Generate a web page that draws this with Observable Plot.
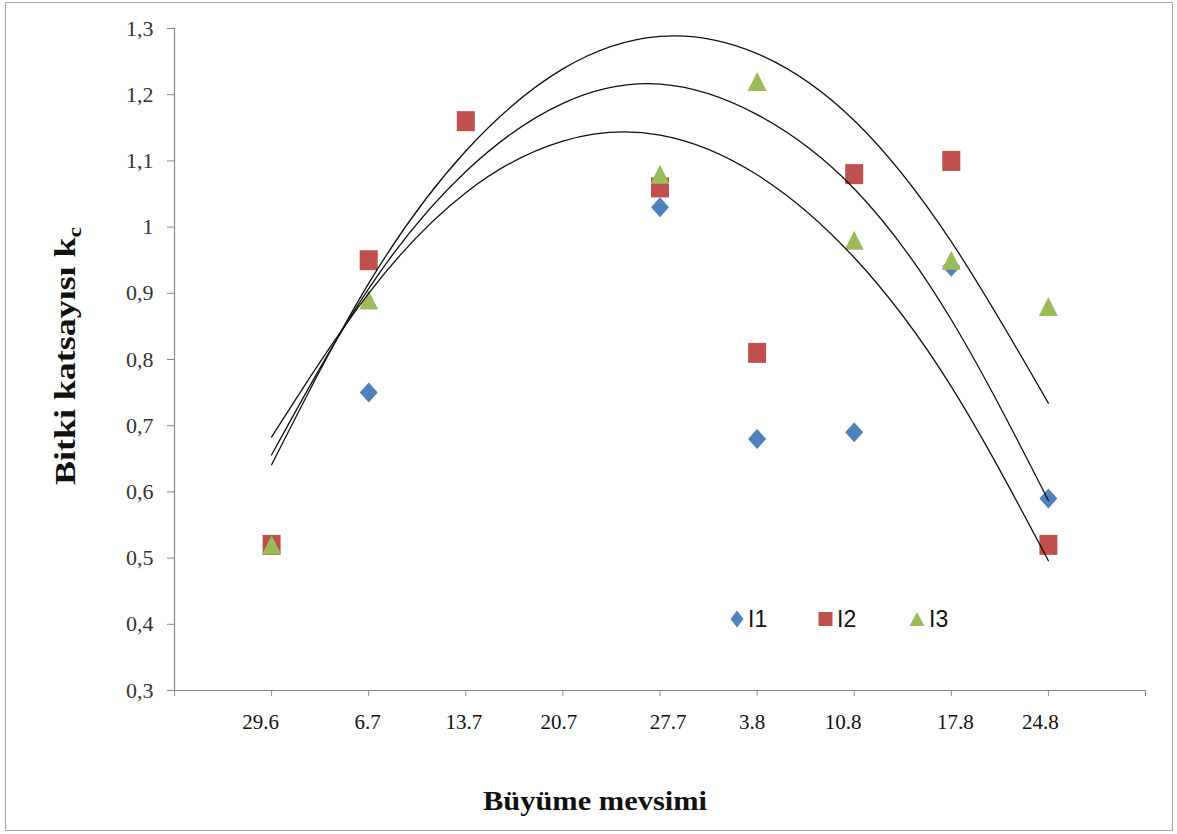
<!DOCTYPE html>
<html><head><meta charset="utf-8">
<script src="https://cdn.jsdelivr.net/npm/d3@7"></script>
<script src="https://cdn.jsdelivr.net/npm/@observablehq/plot@0.6"></script>
<style>
body{margin:0;background:#fff;}
#wrap{position:relative;width:1177px;height:834px;overflow:hidden;}
#border{position:absolute;left:5px;top:2px;width:1166px;height:827px;border:1.5px solid #a6a6a6;pointer-events:none;}
.leg{position:absolute;height:24px;display:flex;align-items:center;font-family:"Liberation Sans Narrow","Liberation Sans",Arial,sans-serif;font-size:23px;color:#111;}
.leg svg{margin-right:4px;}
</style></head><body>
<div id="wrap"><div id="chart"></div><div id="border"></div><div id="legend"></div></div>
<script>
// ---- data ----
const categories = ["29.6","6.7","13.7","20.7","27.7","3.8","10.8","17.8","24.8"];
const seriesNames = ["I1","I2","I3"];
const seriesColors = ["#4F81BD","#C0504D","#9BBB59"];
const valuesI1 = [0.52,0.75,null,null,1.03,0.68,0.69,0.94,0.59];
const valuesI2 = [0.52,0.95,1.16,null,1.06,0.81,1.08,1.10,0.52];
const valuesI3 = [0.52,0.89,null,null,1.08,1.22,0.98,0.95,0.88];
// polynomial trendlines (values read at each category position)
const trendUpper  = [0.641,0.915,1.115,1.239,1.288,1.262,1.161,0.978,0.734];
const trendMiddle = [0.656,0.907,1.084,1.187,1.216,1.170,1.058,0.860,0.587];
const trendLower  = [0.683,0.900,1.052,1.130,1.139,1.079,0.954,0.759,0.496];
const yTicks = [0.3,0.4,0.5,0.6,0.7,0.8,0.9,1.0,1.1,1.2,1.3];
const yTitle = "Bitki katsayısı k";
const yTitleSub = "c";
const xTitle = "Büyüme mevsimi";

// layout: small horizontal nudges of the x tick labels, as placed in the reference
const xLabelNudge = [-11, -1, -2, -4, 8, -5, -11, 4, -8];

// ---- marker shapes ----
const diamondSym = {draw(c){c.moveTo(0,-10);c.lineTo(9,0);c.lineTo(0,10);c.lineTo(-9,0);c.closePath();}};
const squareSym = {draw(c){c.moveTo(-9,-10);c.lineTo(9,-10);c.lineTo(9,10);c.lineTo(-9,10);c.closePath();}};
const triangleSym = {draw(c){c.moveTo(0,-9.5);c.lineTo(9.5,9.5);c.lineTo(-9.5,9.5);c.closePath();}};
const symbols = [diamondSym, squareSym, triangleSym];

const allSeries = [valuesI1, valuesI2, valuesI3];
const points = [];
allSeries.forEach((vals, s) => vals.forEach((v, i) => {
  if (v != null) points.push({series: seriesNames[s], s, x: i + 1, y: v});
}));
const trends = [];
[["upper", trendUpper],["middle", trendMiddle],["lower", trendLower]].forEach(([name, vals]) =>
  vals.forEach((v, i) => trends.push({name, x: i + 1, y: v})));

const fmtY = d => String(+d.toFixed(1)).replace(".", ",");
const serif = '"Liberation Serif","Times New Roman",serif';

const chart = Plot.plot({
  width: 1177, height: 834,
  marginLeft: 174, marginRight: 32, marginTop: 28, marginBottom: 144,
  style: {fontFamily: serif, fontSize: "21px", background: "transparent", color: "#222"},
  x: {domain: [0, 10]},
  y: {domain: [0.3, 1.3]},
  marks: [
    Plot.ruleY([0.3], {stroke: "#8a8a8a", strokeWidth: 1.2}),
    Plot.ruleX([0], {stroke: "#8a8a8a", strokeWidth: 1.2}),
    Plot.axisY({ticks: yTicks, tickFormat: fmtY, tickSize: 7, tickPadding: 14, stroke: "#8a8a8a", fill: "#333",
      fontFamily: serif, fontSize: 22, label: null}),
    Plot.axisX({ticks: d3.range(0, 11), tickFormat: d => categories[d - 1] ?? "", tickSize: 6, tickPadding: 18,
      stroke: "#8a8a8a", fill: "#111", fontFamily: serif, fontSize: 21, label: null}),
    ...seriesNames.map((name, s) => Plot.dot(points.filter(p => p.s === s), {
      x: "x", y: "y", symbol: symbols[s], fill: seriesColors[s], stroke: "none", r: 9
    })),
    Plot.line(trends, {x: "x", y: "y", z: "name", curve: "natural", stroke: "#111", strokeWidth: 1.3})
  ]
});
document.getElementById("chart").appendChild(chart);

const svg = d3.select(chart);
// nudge the x tick labels like the reference
svg.selectAll('g[aria-label="x-axis tick label"] text').each(function(d, i) {
  const idx = i - 1; // first tick (0) has an empty label
  if (idx >= 0 && idx < xLabelNudge.length) {
    const el = d3.select(this);
    const t = el.attr("transform") || "";
    el.attr("transform", t + " translate(" + xLabelNudge[idx] + ",0)");
  }
});

// axis titles
const yt = svg.append("text")
  .attr("transform", "translate(75,356) rotate(-90)")
  .attr("text-anchor", "middle")
  .attr("font-family", serif)
  .attr("font-weight", "bold").attr("font-size", 29).attr("fill", "#111")
  .attr("textLength", 258).attr("lengthAdjust", "spacingAndGlyphs");
yt.append("tspan").text(yTitle);
yt.append("tspan").attr("font-size", 19).attr("dy", 6).text(yTitleSub);
svg.append("text")
  .attr("x", 595).attr("y", 810)
  .attr("text-anchor", "middle")
  .attr("font-family", serif)
  .attr("font-weight", "bold").attr("font-size", 28).attr("fill", "#111")
  .attr("textLength", 224).attr("lengthAdjust", "spacingAndGlyphs")
  .text(xTitle);

// legend (inside the plot area, as in the reference)
const legShapes = [
  '<svg width="14" height="18" viewBox="-7 -9 14 18"><path d="M0,-8.5L6.5,0L0,8.5L-6.5,0Z" fill="' + seriesColors[0] + '"/></svg>',
  '<svg width="15" height="16" viewBox="-7.5 -8 15 16"><rect x="-7" y="-7" width="14" height="14" fill="' + seriesColors[1] + '"/></svg>',
  '<svg width="16" height="16" viewBox="-8 -8 16 16"><path d="M0,-7L7.5,7L-7.5,7Z" fill="' + seriesColors[2] + '"/></svg>'
];
const legLeft = [730, 818, 909];
const legend = document.getElementById("legend");
seriesNames.forEach((name, s) => {
  const d = document.createElement("div");
  d.className = "leg";
  d.style.left = legLeft[s] + "px";
  d.style.top = "607px";
  d.innerHTML = legShapes[s] + "<span>" + name + "</span>";
  legend.appendChild(d);
});
</script>
</body></html>
